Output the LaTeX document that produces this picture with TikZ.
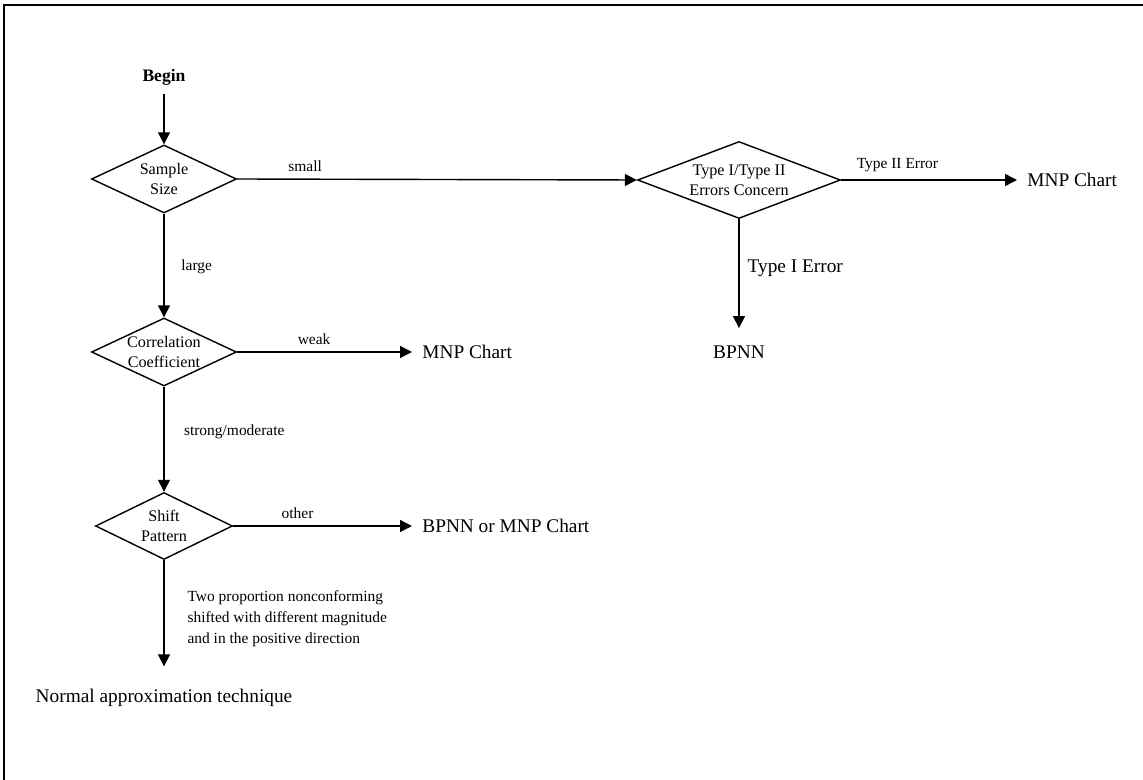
\documentclass[tikz,border=0pt]{standalone}
\usepackage{fontspec}
\setmainfont{Liberation Serif}
\usetikzlibrary{shapes.geometric,arrows.meta}

\begin{document}
\begin{tikzpicture}[
		x=0.02cm, y=-0.02cm,
		line width=0.8pt,
		decision/.style={diamond, draw, inner sep=0pt, align=center, font=\fontsize{9.2}{11.5}\selectfont},
		result/.style={inner xsep=5.5pt, inner ysep=2pt, font=\fontsize{11}{13}\selectfont},
		lbl/.style={inner sep=2pt, font=\fontsize{8.8}{12}\selectfont},
		flow/.style={-{Triangle[length=6.8pt,width=6.8pt]}},
		line cap=butt,
		line join=miter
		]
		
		\useasboundingbox (0,0) rectangle (1143,780);
		\draw[line width=1.2pt] (4,780) -- (4,5) -- (1143,5);
		
		% ---- вершины ----
		\node[inner ysep=4.5pt, font=\fontsize{10}{12}\selectfont\bfseries] (begin) at (164,77) {Begin};
		
		\node[decision, aspect=2.13, minimum width=2.9cm, minimum height=1.36cm] (ssize) at (164,179) {Sample\\Size};
		\node[decision, aspect=2.13, minimum width=2.9cm, minimum height=1.36cm] (corr) at (164,352) {Correlation\\Coefficient};
		\node[decision, aspect=2.04, minimum width=2.74cm, minimum height=1.34cm] (shift) at (164,526) {Shift\\Pattern};
		\node[decision, aspect=2.64, minimum width=4.06cm, minimum height=1.54cm] (errs) at (739,180) {Type I/Type II\\Errors Concern};
		
		\node[result, anchor=west] (mnpa) at (1017,180) {MNP Chart};
		\node[result, outer ysep=8pt] (bpnn) at (739,352) {BPNN};
		\node[result, anchor=west] (mnpb) at (412,352) {MNP Chart};
		\node[result, anchor=west] (either) at (412,526) {BPNN or MNP Chart};
		\node[result, outer ysep=11pt] (normal) at (164,698) {Normal approximation technique};
		
		% ---- стрелки ----
		\draw[flow] (begin) -- (ssize);
		\draw[flow] (ssize.east) -- node[lbl, above=2pt, pos=0.17] (lsmall) {small} (errs.west);
		\draw[flow] (errs.east) -- node[lbl, above=2pt, pos=0.32] (ltwo) {Type II Error} (mnpa);
		\draw[flow] (errs.south) -- node[lbl, right=2.5pt, pos=0.45, font=\fontsize{11}{13}\selectfont] (lone) {Type I Error} (bpnn.north);
		
		\draw[flow] (ssize.south) -- node[lbl, right=7.5pt, pos=0.51] (llarge) {large} (corr.north);
		\draw[flow] (corr.east) -- node[lbl, above=2pt, pos=0.44] (lweak) {weak} (mnpb);
		\draw[flow] (corr.south) -- node[lbl, right=9pt, pos=0.43] (lstrong) {strong/moderate} (shift.north);
		\draw[flow] (shift.east) -- node[lbl, above=2pt, pos=0.36] (lother) {other} (either);
		\draw[flow] (shift.south) -- node[lbl, right=11pt, pos=0.55, align=left] (ltwoprop) {Two proportion nonconforming\\shifted with different magnitude\\and in the positive direction} (normal.north);
	\end{tikzpicture}
\end{document}
